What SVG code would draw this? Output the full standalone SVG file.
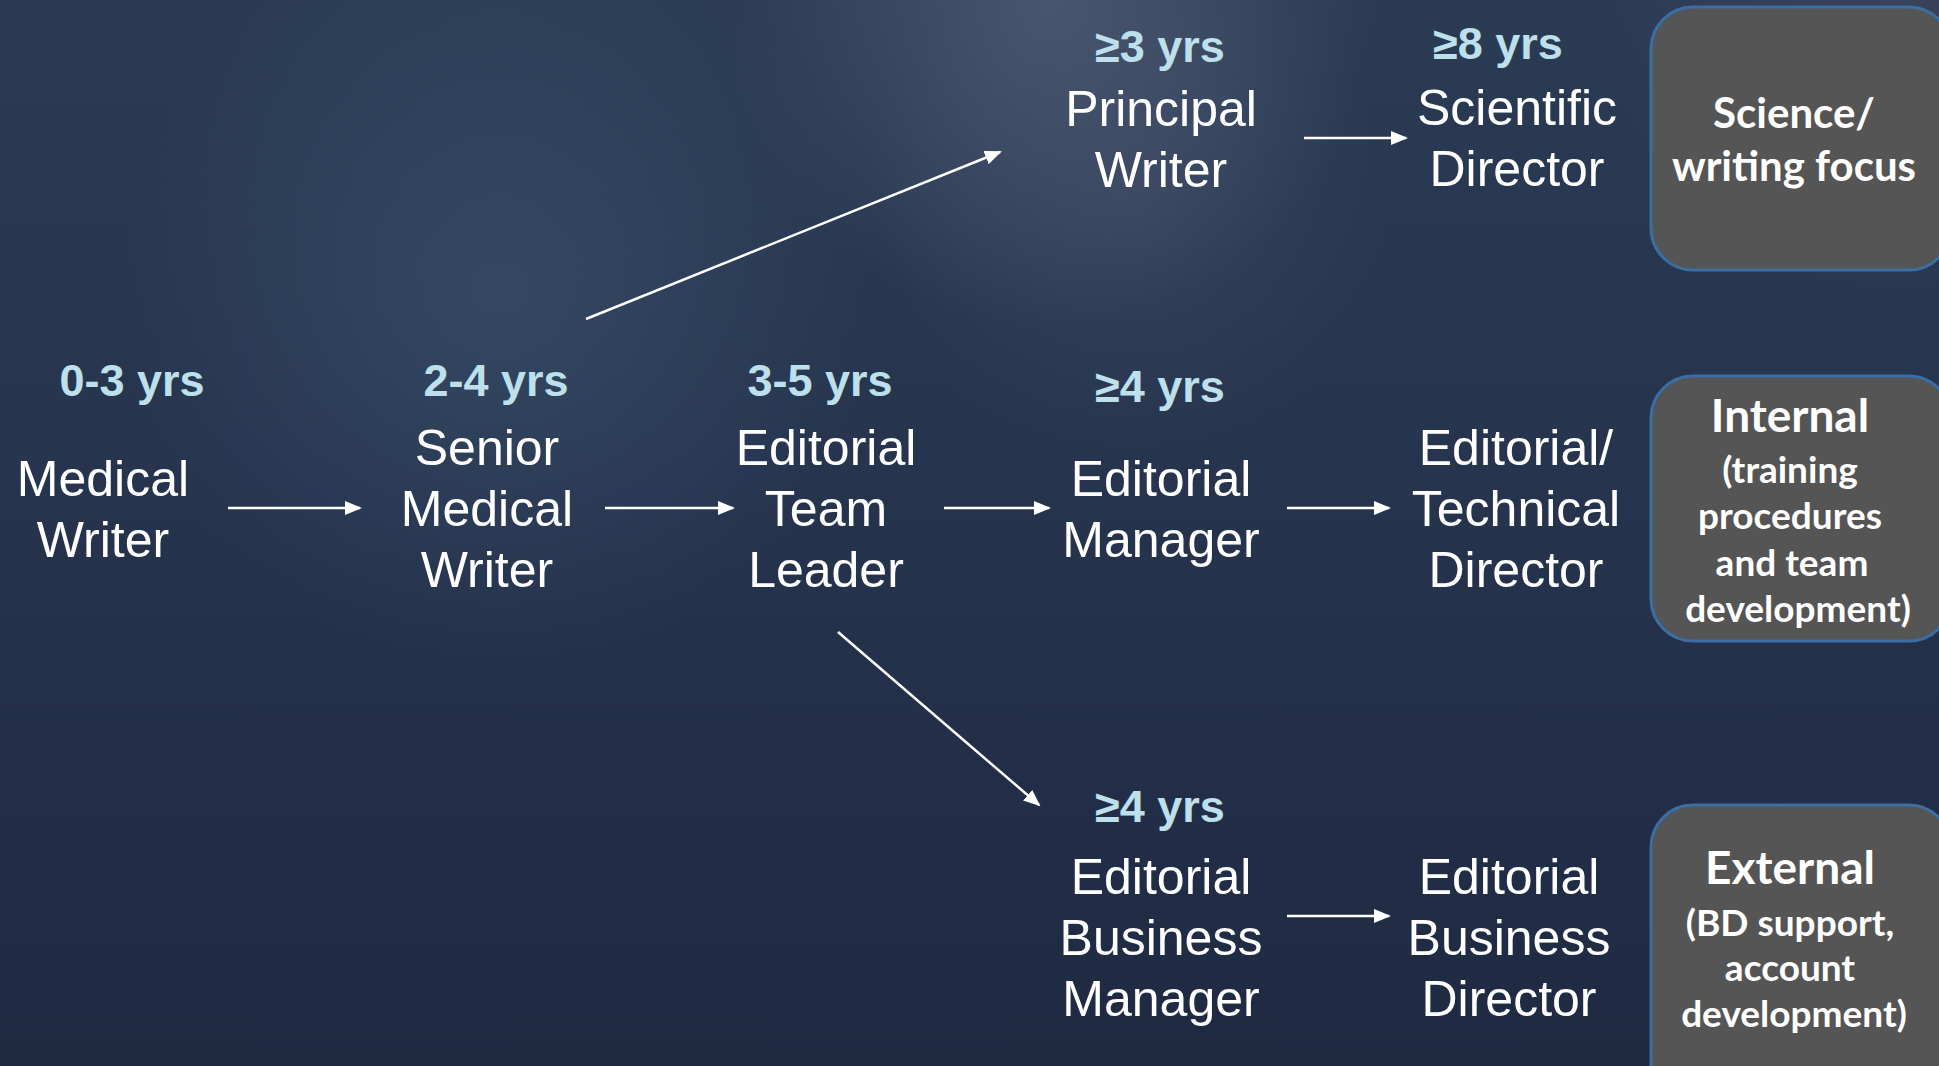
<svg xmlns="http://www.w3.org/2000/svg" width="1939" height="1066" viewBox="0 0 1939 1066">
  <defs>
    <linearGradient id="bg" x1="0" y1="0" x2="0" y2="1">
      <stop offset="0" stop-color="#2b3b54"/>
      <stop offset="0.45" stop-color="#26344e"/>
      <stop offset="1" stop-color="#1f2942"/>
    </linearGradient>
    <radialGradient id="glow1" cx="1050" cy="0" r="330" gradientUnits="userSpaceOnUse">
      <stop offset="0" stop-color="#5a6680" stop-opacity="0.6"/>
      <stop offset="1" stop-color="#5a6680" stop-opacity="0"/>
    </radialGradient>
    <radialGradient id="glow2" cx="500" cy="290" r="380" gradientUnits="userSpaceOnUse">
      <stop offset="0" stop-color="#3d536f" stop-opacity="0.6"/>
      <stop offset="1" stop-color="#3d536f" stop-opacity="0"/>
    </radialGradient>
    <radialGradient id="glow3" cx="1130" cy="200" r="260" gradientUnits="userSpaceOnUse">
      <stop offset="0" stop-color="#46526d" stop-opacity="0.4"/>
      <stop offset="1" stop-color="#46526d" stop-opacity="0"/>
    </radialGradient>
    <radialGradient id="glow4" cx="1900" cy="0" r="300" gradientUnits="userSpaceOnUse">
      <stop offset="0" stop-color="#4a4860" stop-opacity="0.5"/>
      <stop offset="1" stop-color="#4a4860" stop-opacity="0"/>
    </radialGradient>
    <marker id="ah" markerWidth="17" markerHeight="14" refX="15" refY="7" orient="auto" markerUnits="userSpaceOnUse">
      <path d="M0,0 L17,7 L0,14 Z" fill="#ffffff"/>
    </marker>
    <style>
      .role { font-family: "Liberation Sans", Arial, sans-serif; font-size: 50px; fill: #ffffff; text-anchor: middle; }
      .yrs { font-family: "Liberation Sans", Arial, sans-serif; font-size: 45px; font-weight: bold; fill: #bde0ec; text-anchor: middle; }
      .box { fill: #555555; stroke: #3a6ea5; stroke-width: 3; }
      .bt { font-family: Lato, "Open Sans", sans-serif; font-weight: bold; fill: #ffffff; text-anchor: middle; }
      .bh { font-size: 46px; }
      .bs { font-size: 37px; }
      .bf { font-size: 42px; }
      .conn line { stroke: #ffffff; stroke-width: 2.5; marker-end: url(#ah); }
    </style>
  </defs>

  <rect width="1939" height="1066" fill="url(#bg)"/>
  <rect width="1939" height="1066" fill="url(#glow2)"/>
  <rect width="1939" height="1066" fill="url(#glow3)"/>
  <rect width="1939" height="1066" fill="url(#glow1)"/>
  <rect width="1939" height="1066" fill="url(#glow4)"/>

  <g id="connectors" class="conn">
    <line x1="228" y1="508" x2="360" y2="508"/>
    <line x1="605" y1="508" x2="733" y2="508"/>
    <line x1="944" y1="508" x2="1049" y2="508"/>
    <line x1="1287" y1="508" x2="1389" y2="508"/>
    <line x1="1304" y1="138" x2="1406" y2="138"/>
    <line x1="1287" y1="916" x2="1389" y2="916"/>
    <line x1="586" y1="319" x2="1000" y2="152"/>
    <line x1="838" y1="632" x2="1039" y2="805"/>
  </g>

  <g id="medical-writer">
    <text class="yrs" x="132" y="396">0-3 yrs</text>
    <text class="role" x="103" y="496">Medical</text>
    <text class="role" x="103" y="557">Writer</text>
  </g>

  <g id="senior-medical-writer">
    <text class="yrs" x="496" y="396">2-4 yrs</text>
    <text class="role" x="487" y="465">Senior</text>
    <text class="role" x="487" y="526">Medical</text>
    <text class="role" x="487" y="587">Writer</text>
  </g>

  <g id="editorial-team-leader">
    <text class="yrs" x="820" y="396">3-5 yrs</text>
    <text class="role" x="826" y="465">Editorial</text>
    <text class="role" x="826" y="526">Team</text>
    <text class="role" x="826" y="587">Leader</text>
  </g>

  <g id="principal-writer">
    <text class="yrs" x="1160" y="62">≥3 yrs</text>
    <text class="role" x="1161" y="126">Principal</text>
    <text class="role" x="1161" y="187">Writer</text>
  </g>

  <g id="scientific-director">
    <text class="yrs" x="1498" y="59">≥8 yrs</text>
    <text class="role" x="1517" y="125">Scientific</text>
    <text class="role" x="1517" y="186">Director</text>
  </g>

  <g id="editorial-manager">
    <text class="yrs" x="1160" y="402">≥4 yrs</text>
    <text class="role" x="1161" y="496">Editorial</text>
    <text class="role" x="1161" y="557">Manager</text>
  </g>

  <g id="editorial-technical-director">
    <text class="role" x="1516" y="465">Editorial/</text>
    <text class="role" x="1516" y="526">Technical</text>
    <text class="role" x="1516" y="587">Director</text>
  </g>

  <g id="editorial-business-manager">
    <text class="yrs" x="1160" y="822">≥4 yrs</text>
    <text class="role" x="1161" y="894">Editorial</text>
    <text class="role" x="1161" y="955">Business</text>
    <text class="role" x="1161" y="1016">Manager</text>
  </g>

  <g id="editorial-business-director">
    <text class="role" x="1509" y="894">Editorial</text>
    <text class="role" x="1509" y="955">Business</text>
    <text class="role" x="1509" y="1016">Director</text>
  </g>

  <g id="science-focus">
    <rect class="box" x="1651" y="7" width="300" height="263" rx="42"/>
    <text class="bt bf" x="1794" y="128">Science/</text>
    <text class="bt bf" x="1794" y="181">writing focus</text>
  </g>

  <g id="internal">
    <rect class="box" x="1651" y="376" width="300" height="265" rx="42"/>
    <text class="bt bh" x="1790" y="432">Internal</text>
    <text class="bt bs" x="1790" y="483">(training</text>
    <text class="bt bs" x="1790" y="529">procedures</text>
    <text class="bt bs" x="1792" y="576">and team</text>
    <text class="bt bs" x="1798" y="622">development)</text>
  </g>

  <g id="external">
    <rect class="box" x="1651" y="805" width="300" height="300" rx="42"/>
    <text class="bt bh" x="1790" y="884">External</text>
    <text class="bt bs" x="1790" y="936">(BD support,</text>
    <text class="bt bs" x="1790" y="981">account</text>
    <text class="bt bs" x="1794" y="1027">development)</text>
  </g>
</svg>
